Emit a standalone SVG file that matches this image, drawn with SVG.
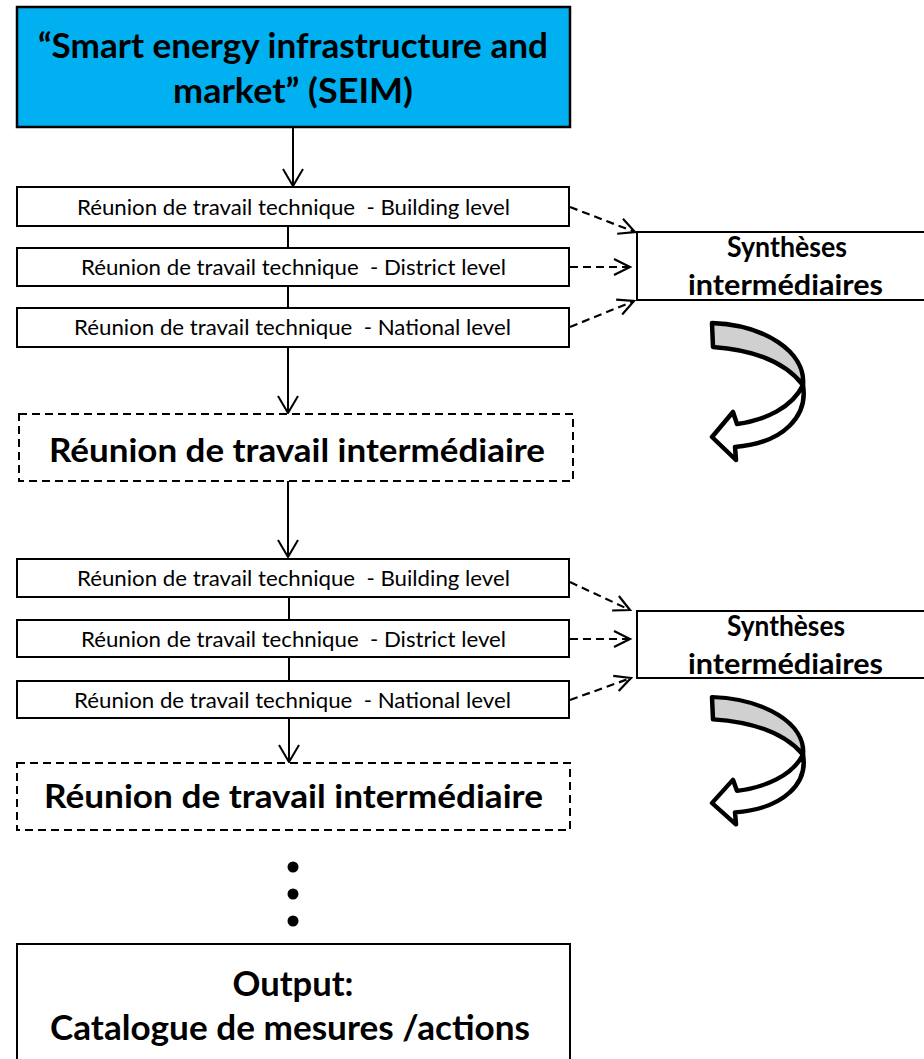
<svg xmlns="http://www.w3.org/2000/svg" width="924" height="1059" viewBox="0 0 924 1059">
<style>
  .box { fill: #ffffff; stroke: #000000; stroke-width: 2; }
  .title { fill: #00B0F0; stroke: #000000; stroke-width: 2.5; }
  .dbox { fill: #ffffff; stroke: #000000; stroke-width: 2; stroke-dasharray: 8 5; }
  .t-small { font-family: Lato, "Liberation Sans", sans-serif; font-size: 21.5px; fill: #000; text-anchor: middle; }
  .t-bold { font-family: Lato, "Liberation Sans", sans-serif; font-weight: bold; fill: #000; text-anchor: middle; }
  .conn { fill: none; stroke: #000; stroke-width: 2; }
  .dconn { fill: none; stroke: #000; stroke-width: 2.2; stroke-dasharray: 8 5; }
  .curl-g { fill: #D0D0D0; stroke: #000; stroke-width: 4.5; stroke-linejoin: round; }
  .curl-w { fill: #ffffff; stroke: #000; stroke-width: 4.5; stroke-linejoin: round; }
</style>
<defs>
  <marker id="arr" markerUnits="userSpaceOnUse" markerWidth="24" markerHeight="24" refX="19" refY="11" orient="auto">
    <path d="M2,1 L19,11 L2,21" fill="none" stroke="#000" stroke-width="2" stroke-dasharray="none"/>
  </marker>
  <marker id="darr" markerUnits="userSpaceOnUse" markerWidth="24" markerHeight="24" refX="18" refY="10" orient="auto">
    <path d="M2,2 L18,10 L2,18" fill="none" stroke="#000" stroke-width="2.2" stroke-dasharray="none"/>
  </marker>
</defs>

<g id="connectors">
  <line class="conn" x1="293" y1="127" x2="293" y2="186" marker-end="url(#arr)"/>
  <line class="conn" x1="288" y1="226" x2="288" y2="248"/>
  <line class="conn" x1="288" y1="286" x2="288" y2="308"/>
  <line class="conn" x1="288" y1="347" x2="288" y2="413" marker-end="url(#arr)"/>
  <line class="conn" x1="288" y1="481" x2="288" y2="557" marker-end="url(#arr)"/>
  <line class="conn" x1="289" y1="597" x2="289" y2="620"/>
  <line class="conn" x1="289" y1="657" x2="289" y2="681"/>
  <line class="conn" x1="289" y1="718" x2="289" y2="762" marker-end="url(#arr)"/>
  <path class="dconn" d="M570,207 L635,232" marker-end="url(#darr)"/>
  <path class="dconn" d="M570,267 L630,267" marker-end="url(#darr)"/>
  <path class="dconn" d="M570,327 L634,301" marker-end="url(#darr)"/>
  <path class="dconn" d="M570,582 L630,610" marker-end="url(#darr)"/>
  <path class="dconn" d="M570,639 L630,639" marker-end="url(#darr)"/>
  <path class="dconn" d="M570,700 L631,678" marker-end="url(#darr)"/>
</g>

<g id="seim">
  <rect class="title" x="17" y="7" width="553" height="120"/>
  <text class="t-bold" x="293" y="58" font-size="35" textLength="510" lengthAdjust="spacingAndGlyphs">“Smart energy infrastructure and</text>
  <text class="t-bold" x="293" y="103" font-size="35" textLength="240" lengthAdjust="spacingAndGlyphs">market” (SEIM)</text>
</g>

<g id="tech1-building">
  <rect class="box" x="17" y="187" width="552" height="39"/>
  <text class="t-small" x="293.5" y="215" textLength="433" lengthAdjust="spacingAndGlyphs" xml:space="preserve">Réunion de travail technique  - Building level</text>
</g>
<g id="tech1-district">
  <rect class="box" x="17" y="248" width="552" height="38"/>
  <text class="t-small" x="293.5" y="275" textLength="425" lengthAdjust="spacingAndGlyphs" xml:space="preserve">Réunion de travail technique  - District level</text>
</g>
<g id="tech1-national">
  <rect class="box" x="17" y="308" width="552" height="39"/>
  <text class="t-small" x="292.5" y="335" textLength="437" lengthAdjust="spacingAndGlyphs" xml:space="preserve">Réunion de travail technique  - National level</text>
</g>

<g id="synth1">
  <rect class="box" x="637" y="232" width="300" height="68"/>
  <text class="t-bold" x="787" y="257" font-size="28" textLength="120" lengthAdjust="spacingAndGlyphs">Synthèses</text>
  <text class="t-bold" x="785.5" y="295" font-size="28" textLength="195" lengthAdjust="spacingAndGlyphs">intermédiaires</text>
</g>

<g id="curl1">
  <path class="curl-g" d="M712,323 L713,347 C755,350 785,362 803,385 C806,352 765,325 712,323 Z"/>
  <path class="curl-w" d="M803,385 C808,415 785,443 735,447 L736,460 L712,437 L733,412 L737,424 C765,420 792,408 803,385 Z"/>
</g>

<g id="inter1">
  <rect class="dbox" x="19" y="414" width="554" height="67"/>
  <text class="t-bold" x="297" y="462" font-size="32" textLength="496" lengthAdjust="spacingAndGlyphs">Réunion de travail intermédiaire</text>
</g>

<g id="tech2-building">
  <rect class="box" x="17" y="559" width="552" height="38"/>
  <text class="t-small" x="293.5" y="586" textLength="433" lengthAdjust="spacingAndGlyphs" xml:space="preserve">Réunion de travail technique  - Building level</text>
</g>
<g id="tech2-district">
  <rect class="box" x="17" y="620" width="552" height="37"/>
  <text class="t-small" x="293.5" y="646.5" textLength="425" lengthAdjust="spacingAndGlyphs" xml:space="preserve">Réunion de travail technique  - District level</text>
</g>
<g id="tech2-national">
  <rect class="box" x="17" y="681" width="552" height="37"/>
  <text class="t-small" x="292.5" y="707.5" textLength="437" lengthAdjust="spacingAndGlyphs" xml:space="preserve">Réunion de travail technique  - National level</text>
</g>

<g id="synth2">
  <rect class="box" x="637" y="611" width="300" height="67"/>
  <text class="t-bold" x="786" y="636" font-size="28" textLength="118" lengthAdjust="spacingAndGlyphs">Synthèses</text>
  <text class="t-bold" x="785.5" y="674" font-size="28" textLength="195" lengthAdjust="spacingAndGlyphs">intermédiaires</text>
</g>

<g id="curl2" transform="translate(0,697) scale(1,0.93) translate(0,-323)">
  <path class="curl-g" d="M712,323 L713,347 C755,350 785,362 803,385 C806,352 765,325 712,323 Z"/>
  <path class="curl-w" d="M803,385 C808,415 785,443 735,447 L736,460 L712,437 L733,412 L737,424 C765,420 792,408 803,385 Z"/>
</g>

<g id="inter2">
  <rect class="dbox" x="17" y="763" width="553" height="67"/>
  <text class="t-bold" x="293.5" y="808" font-size="32" textLength="499" lengthAdjust="spacingAndGlyphs">Réunion de travail intermédiaire</text>
</g>

<g id="ellipsis">
  <circle cx="293" cy="867" r="5.5" fill="#000"/>
  <circle cx="293" cy="894" r="5.5" fill="#000"/>
  <circle cx="293" cy="921" r="5.5" fill="#000"/>
</g>

<g id="output">
  <rect class="box" x="17" y="944" width="553" height="130"/>
  <text class="t-bold" x="293" y="996" font-size="34" textLength="121" lengthAdjust="spacingAndGlyphs">Output:</text>
  <text class="t-bold" x="290" y="1040" font-size="34" textLength="480" lengthAdjust="spacingAndGlyphs">Catalogue de mesures /actions</text>
</g>
</svg>
